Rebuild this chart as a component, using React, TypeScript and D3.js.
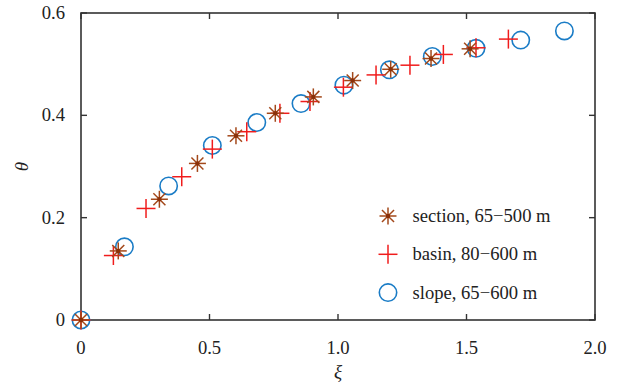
import React from "react";
import * as d3 from "d3";

const sectionXi = [0, 0.145, 0.305, 0.453, 0.603, 0.756, 0.904, 1.057, 1.205, 1.362, 1.514];
const sectionTheta = [0, 0.135, 0.236, 0.306, 0.36, 0.404, 0.436, 0.468, 0.49, 0.511, 0.53];

const basinXi = [0, 0.126, 0.253, 0.392, 0.511, 0.645, 0.774, 0.891, 1.021, 1.148, 1.28, 1.41, 1.537, 1.663];
const basinTheta = [0, 0.126, 0.218, 0.28, 0.334, 0.368, 0.404, 0.427, 0.455, 0.479, 0.498, 0.519, 0.532, 0.549];

const slopeXi = [0, 0.169, 0.341, 0.511, 0.684, 0.856, 1.023, 1.2, 1.367, 1.537, 1.711, 1.881];
const slopeTheta = [0, 0.143, 0.262, 0.341, 0.386, 0.423, 0.459, 0.489, 0.515, 0.531, 0.547, 0.565];

const xTicks = [0, 0.5, 1.0, 1.5, 2.0];
const xTickLabels = ["0", "0.5", "1.0", "1.5", "2.0"];
const yTicks = [0, 0.2, 0.4, 0.6];
const yTickLabels = ["0", "0.2", "0.4", "0.6"];

const legendLabels = ["section, 65\u2212500 m", "basin, 80\u2212600 m", "slope, 65\u2212600 m"];

const BROWN = "#a3481a";
const RED = "#f01c1c";
const BLUE = "#1a7cc6";
const FONT = "'Liberation Serif', 'Times New Roman', serif";
const FS = 18.6;

function Asterisk({ x, y, s = 8.5 }: { x: number; y: number; s?: number }) {
  const d = s * Math.SQRT1_2;
  return (
    <g stroke={BROWN} strokeWidth={1.5}>
      <line x1={x - s} y1={y} x2={x + s} y2={y} />
      <line x1={x} y1={y - s} x2={x} y2={y + s} />
      <line x1={x - d} y1={y - d} x2={x + d} y2={y + d} />
      <line x1={x - d} y1={y + d} x2={x + d} y2={y - d} />
      <circle cx={x} cy={y} r={2.2} fill="#8a3008" stroke="none" />
    </g>
  );
}

function Plus({ x, y, s = 9.5 }: { x: number; y: number; s?: number }) {
  return (
    <g stroke={RED} strokeWidth={1.5}>
      <line x1={x - s} y1={y} x2={x + s} y2={y} />
      <line x1={x} y1={y - s} x2={x} y2={y + s} />
    </g>
  );
}

function Circ({ x, y, r = 8.7 }: { x: number; y: number; r?: number }) {
  return <circle cx={x} cy={y} r={r} fill="none" stroke={BLUE} strokeWidth={1.6} />;
}

export default function App() {
  const W = 617, H = 383;
  const left = 81, right = 595, top = 13, bottom = 320;
  const x = d3.scaleLinear().domain([0, 2]).range([left, right]);
  const y = d3.scaleLinear().domain([0, 0.6]).range([bottom, top]);
  const tick = 6;
  const axisColor = "#333";

  return (
    <svg width={W} height={H} style={{ position: "absolute", left: 0, top: 0, background: "#fff" }}>
      <rect x={0} y={0} width={W} height={H} fill="#fff" />
      <rect x={left} y={top} width={right - left} height={bottom - top} fill="none" stroke={axisColor} strokeWidth={1.6} />
      {xTicks.map((t, i) => (
        <g key={"xt" + i}>
          <line x1={x(t)} x2={x(t)} y1={bottom} y2={bottom - tick} stroke={axisColor} strokeWidth={1.4} />
          <line x1={x(t)} x2={x(t)} y1={top} y2={top + tick} stroke={axisColor} strokeWidth={1.4} />
          <text x={x(t)} y={bottom + 34} textAnchor="middle" fontFamily={FONT} fontSize={FS} fill="#222">
            {xTickLabels[i]}
          </text>
        </g>
      ))}
      {yTicks.map((t, i) => (
        <g key={"yt" + i}>
          <line x1={left} x2={left + tick} y1={y(t)} y2={y(t)} stroke={axisColor} strokeWidth={1.4} />
          <line x1={right} x2={right - tick} y1={y(t)} y2={y(t)} stroke={axisColor} strokeWidth={1.4} />
          <text x={left - 16} y={y(t) + 6} textAnchor="end" fontFamily={FONT} fontSize={FS} fill="#222">
            {yTickLabels[i]}
          </text>
        </g>
      ))}
      <text x={x(1)} y={378} textAnchor="middle" fontFamily={FONT} fontStyle="italic" fontSize={19} fill="#222">
        ξ
      </text>
      <text
        transform={`translate(28, ${(top + bottom) / 2}) rotate(-90)`}
        textAnchor="middle"
        fontFamily={FONT}
        fontStyle="italic"
        fontSize={19}
        fill="#222"
      >
        θ
      </text>
      {slopeXi.map((v, i) => (
        <Circ key={"s" + i} x={x(v)} y={y(slopeTheta[i])} />
      ))}
      {basinXi.map((v, i) => (
        <Plus key={"b" + i} x={x(v)} y={y(basinTheta[i])} />
      ))}
      {sectionXi.map((v, i) => (
        <Asterisk key={"a" + i} x={x(v)} y={y(sectionTheta[i])} />
      ))}
      {legendLabels.map((lab, i) => {
        const ly = 216 + i * 38.3;
        const lx = 388;
        return (
          <g key={"l" + i}>
            {i === 0 && <Asterisk x={lx} y={ly} />}
            {i === 1 && <Plus x={lx} y={ly} />}
            {i === 2 && <Circ x={lx} y={ly} />}
            <text x={412.5} y={ly + 6} fontFamily={FONT} fontSize={FS} fill="#222">
              {lab}
            </text>
          </g>
        );
      })}
    </svg>
  );
}
